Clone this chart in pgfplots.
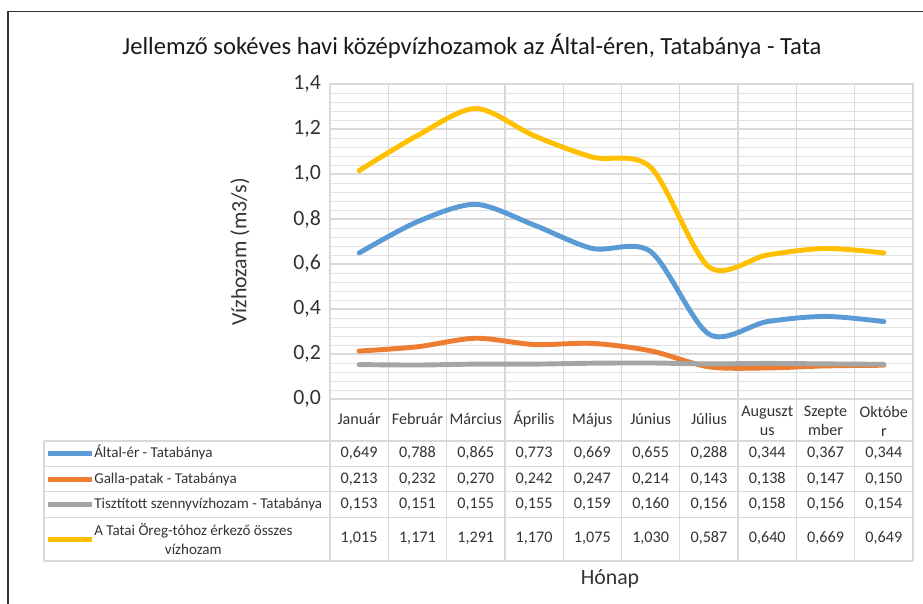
\documentclass[border=0pt]{standalone}
\usepackage{pgfplots}
\pgfplotsset{compat=1.18}
\usepackage{fontspec}
\setmainfont{Carlito}

\definecolor{cBlue}{HTML}{5B9BD5}
\definecolor{cOrange}{HTML}{ED7D31}
\definecolor{cGray}{HTML}{A5A5A5}
\definecolor{cGold}{HTML}{FFC000}
\definecolor{gridc}{HTML}{D9D9D9}
\definecolor{txt}{HTML}{333333}

\pgfkeys{/pgf/number format/assume math mode=true}
\newcommand{\tabfont}{\fontsize{11.5}{13.5}\selectfont}
\newcommand{\labfont}{\fontsize{10.7}{13}\selectfont}
\newcommand{\num}[1]{\pgfmathprintnumber[use comma,fixed,fixed zerofill,precision=3]{#1}}

\begin{document}
\begin{tikzpicture}[x=0.25mm,y=0.25mm, every node/.style={text=txt},
    cell/.style={font=\tabfont, text height=1.6ex, text depth=0.45ex, inner sep=0pt}]
\path[use as bounding box] (0,0) rectangle (923,604);
\draw[line width=1.3pt, black!80] (8,0) -- (8,592.5) -- (923,592.5);

% title
\node[text=black!90] at (472,558) {\fontsize{17.5}{19}\selectfont Jellemző sokéves havi középvízhozamok az Által-éren, Tatabánya - Tata};

\begin{axis}[
    at={(82.5mm,51.25mm)}, anchor=south west,
    scale only axis, width=145.75mm, height=78.75mm,
    xmin=0, xmax=10, ymin=0, ymax=1.4,
    xtick={0,1,...,10}, xticklabels={},
    ytick={0,0.2,...,1.4}, minor y tick num=4,
    major tick length=0pt, minor tick length=0pt,
    xmajorgrids, ymajorgrids, yminorgrids,
    major grid style={gridc, line width=0.9pt},
    minor grid style={gridc!80, line width=0.6pt},
    axis line style={gridc, line width=0.9pt},
    yticklabel style={font=\fontsize{15.5}{15.5}\selectfont, text=txt, xshift=-3pt},
    yticklabel={\pgfmathprintnumber[use comma,fixed,fixed zerofill,precision=1]{\tick}},
    clip=false,
]
\addplot[smooth, tension=0.5, line width=3.5pt, line cap=round, cBlue] coordinates {
    (0.5,0.649) (1.5,0.788) (2.5,0.865) (3.5,0.773) (4.5,0.669)
    (5.5,0.655) (6.5,0.288) (7.5,0.344) (8.5,0.367) (9.5,0.344)
};
\addplot[smooth, tension=0.5, line width=3.5pt, line cap=round, cOrange] coordinates {
    (0.5,0.213) (1.5,0.232) (2.5,0.270) (3.5,0.242) (4.5,0.247)
    (5.5,0.214) (6.5,0.143) (7.5,0.138) (8.5,0.147) (9.5,0.150)
};
\addplot[smooth, tension=0.5, line width=3.5pt, line cap=round, cGray] coordinates {
    (0.5,0.153) (1.5,0.151) (2.5,0.155) (3.5,0.155) (4.5,0.159)
    (5.5,0.160) (6.5,0.156) (7.5,0.158) (8.5,0.156) (9.5,0.154)
};
\addplot[smooth, tension=0.5, line width=3.5pt, line cap=round, cGold] coordinates {
    (0.5,1.015) (1.5,1.171) (2.5,1.291) (3.5,1.170) (4.5,1.075)
    (5.5,1.030) (6.5,0.587) (7.5,0.640) (8.5,0.669) (9.5,0.649)
};
\end{axis}

% y label
\node[rotate=90] at (240,352) {\fontsize{15.5}{17}\selectfont Vízhozam (m3/s)};

% data table grid
\begin{scope}[draw=gridc, line width=0.9pt]
\foreach \k in {0,...,10} \draw ({330+\k*58.3},43) -- ({330+\k*58.3},205);
\draw (330,205) -- (913,205);
\foreach \yy in {163,137.3,112.3,86.7,43} \draw (44,\yy) -- (913,\yy);
\draw (44,43) -- (44,163);
\end{scope}

% month labels
\foreach \m [count=\i from 0] in {Január,Február,Március,Április,Május,Június,Július}
  \node[cell] at ({330+(\i+0.5)*58.3},183) {\m};
\foreach \m [count=\i from 7] in {Auguszt\\us,Szepte\\mber,Októbe\\r}
  \node[align=center, font=\tabfont, inner sep=0pt] at ({330+(\i+0.5)*58.3},183) {\m};

% legend keys and series names
\draw[cBlue, line width=3.5pt] (48,150.2) -- (92,150.2);
\draw[cOrange, line width=3.5pt] (48,124.8) -- (92,124.8);
\draw[cGray, line width=3.5pt] (48,99.5) -- (92,99.5);
\draw[cGold, line width=3.5pt] (48,64.9) -- (92,64.9);
\node[cell, font=\labfont, anchor=west] at (94,150.2) {Által-ér - Tatabánya};
\node[cell, font=\labfont, anchor=west] at (94,124.8) {Galla-patak - Tatabánya};
\node[cell, font=\labfont, anchor=west] at (94,99.5) {Tisztított szennyvízhozam - Tatabánya};
\node[anchor=west, font=\labfont, inner sep=0pt, align=center] at (94,64.9) {A Tatai Öreg-tóhoz érkező összes\\vízhozam};

% table values
\foreach \v [count=\i from 0] in {0.649,0.788,0.865,0.773,0.669,0.655,0.288,0.344,0.367,0.344}
  \node[cell] at ({330+(\i+0.5)*58.3},150.2) {\num{\v}};
\foreach \v [count=\i from 0] in {0.213,0.232,0.270,0.242,0.247,0.214,0.143,0.138,0.147,0.150}
  \node[cell] at ({330+(\i+0.5)*58.3},124.8) {\num{\v}};
\foreach \v [count=\i from 0] in {0.153,0.151,0.155,0.155,0.159,0.160,0.156,0.158,0.156,0.154}
  \node[cell] at ({330+(\i+0.5)*58.3},99.5) {\num{\v}};
\foreach \v [count=\i from 0] in {1.015,1.171,1.291,1.170,1.075,1.030,0.587,0.640,0.669,0.649}
  \node[cell] at ({330+(\i+0.5)*58.3},64.9) {\num{\v}};

% x label
\node at (610,25) {\fontsize{15.5}{17}\selectfont Hónap};
\end{tikzpicture}
\end{document}
